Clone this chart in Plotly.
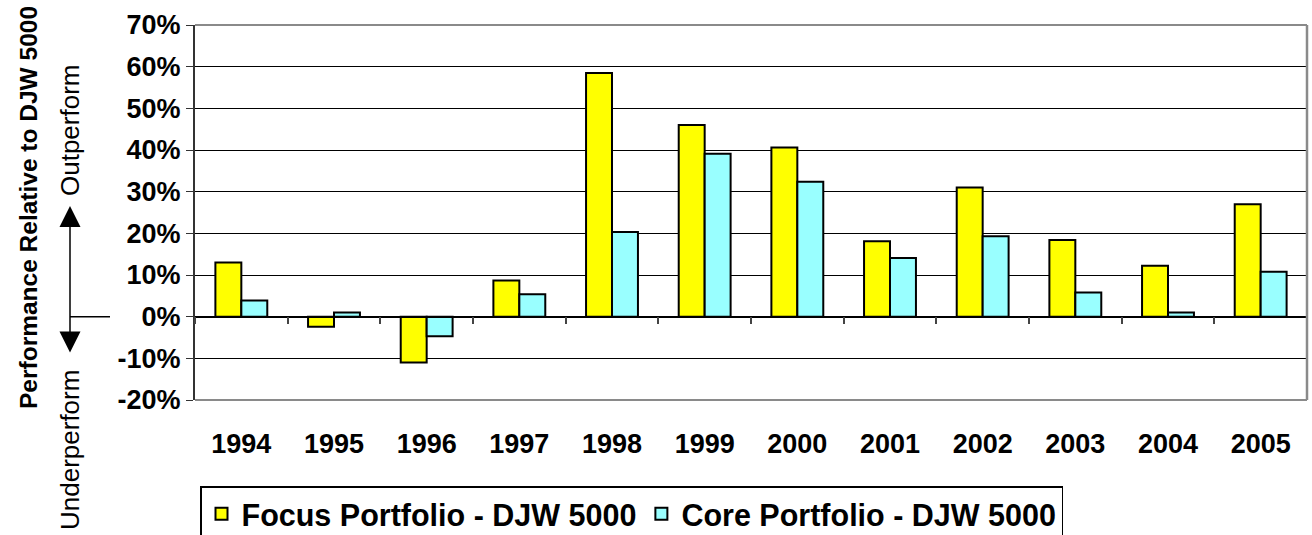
import plotly.graph_objects as go

years = ["1994", "1995", "1996", "1997", "1998", "1999", "2000", "2001", "2002", "2003", "2004", "2005"]
focus = [13.0, -2.4, -11.0, 8.7, 58.5, 46.0, 40.6, 18.1, 31.0, 18.4, 12.2, 27.0]
core = [3.9, 1.0, -4.7, 5.4, 20.3, 39.1, 32.4, 14.1, 19.3, 5.8, 1.0, 10.8]
focus_name = "Focus Portfolio - DJW 5000"
core_name = "Core Portfolio - DJW 5000"
y_ticks = [-20, -10, 0, 10, 20, 30, 40, 50, 60, 70]

FONT = "Liberation Sans, Arial, sans-serif"
W, H = 1312, 535
L, R, T, B = 195, 5, 25, 135
pw, ph = W - L - R, H - T - B

def px_x(x):
    return (x - L) / pw

def px_y(y):
    return (H - B - y) / ph

fig = go.Figure()
fig.add_trace(go.Bar(x=years, y=focus, name=focus_name,
                     marker=dict(color="#FFFF00", line=dict(color="black", width=2))))
fig.add_trace(go.Bar(x=years, y=core, name=core_name,
                     marker=dict(color="#99FFFF", line=dict(color="black", width=2))))
# invisible helper so the zero-line category axis has its categories
fig.add_trace(go.Scatter(x=years, y=[None] * len(years), xaxis="x2", mode="lines",
                         showlegend=False, hoverinfo="skip"))

ymin, ymax = y_ticks[0], y_ticks[-1]
zero_pos = (0 - ymin) / (ymax - ymin)

fig.update_layout(
    width=W, height=H,
    margin=dict(l=L, r=R, t=T, b=B, autoexpand=False),
    paper_bgcolor="white", plot_bgcolor="white",
    barmode="group", bargap=0.44, bargroupgap=0,
    font=dict(family=FONT, color="black"),
    showlegend=True,
    legend=dict(orientation="h", x=px_x(200), xanchor="left", y=px_y(486), yanchor="top",
                font=dict(family=FONT, size=30.5, color="black", weight="bold"),
                bordercolor="black", borderwidth=1.5, bgcolor="white",
                itemsizing="constant", traceorder="normal", itemwidth=30),
    xaxis=dict(type="category", showline=False, showgrid=False, zeroline=False,
               ticks="outside", ticklen=20, tickcolor="rgba(0,0,0,0)",
               tickfont=dict(family=FONT, size=27, color="black", weight="bold")),
    xaxis2=dict(type="category", overlaying="x", matches="x", anchor="free", position=zero_pos,
                side="bottom", showline=True, linecolor="black", linewidth=1.5,
                ticks="outside", tickson="boundaries", ticklen=7, tickcolor="#444", tickwidth=1.5,
                showticklabels=False, showgrid=False, zeroline=False),
    yaxis=dict(range=[ymin, ymax], tickvals=y_ticks, ticktext=[f"{v}%" for v in y_ticks],
               showgrid=True, gridcolor="black", gridwidth=1,
               zeroline=False, showline=True, linecolor="#333", linewidth=2,
               ticks="outside", ticklen=7, tickcolor="#333", tickwidth=1,
               tickfont=dict(family=FONT, size=27, color="black", weight="bold")),
)

# plot area frame (gray) on top, right, bottom
fig.add_shape(type="line", xref="paper", yref="paper", x0=0, x1=1, y0=1, y1=1,
              line=dict(color="#8a8a8a", width=2))
fig.add_shape(type="line", xref="paper", yref="paper", x0=1, x1=1, y0=0, y1=1,
              line=dict(color="#8a8a8a", width=2.5))
fig.add_shape(type="line", xref="paper", yref="paper", x0=0, x1=1, y0=0, y1=0,
              line=dict(color="#8a8a8a", width=2))

# y-axis title and side labels
fig.add_annotation(text="Performance Relative to DJW 5000", xref="paper", yref="paper",
                   x=px_x(28), y=px_y(208), xanchor="center", yanchor="middle",
                   textangle=-90, showarrow=False,
                   font=dict(family=FONT, size=24.5, color="black", weight="bold"))
fig.add_annotation(text="Outperform", xref="paper", yref="paper",
                   x=px_x(70), y=px_y(130), xanchor="center", yanchor="middle",
                   textangle=-90, showarrow=False,
                   font=dict(family=FONT, size=26, color="black"))
fig.add_annotation(text="Underperform", xref="paper", yref="paper",
                   x=px_x(70), y=px_y(450), xanchor="center", yanchor="middle",
                   textangle=-90, showarrow=False,
                   font=dict(family=FONT, size=26, color="black"))
# double arrow
fig.add_annotation(text="", xref="paper", yref="paper", x=px_x(70), y=px_y(206),
                   ax=0, ay=148, showarrow=True, arrowside="end+start",
                   arrowhead=2, startarrowhead=2, arrowsize=2.8, startarrowsize=2.8,
                   arrowwidth=1.5, arrowcolor="black")
# horizontal tick from arrow to zero level
fig.add_shape(type="line", xref="paper", yref="y", x0=px_x(70), x1=px_x(110), y0=0, y1=0,
              line=dict(color="black", width=1.5))

fig.write_html("out.html", config={"displayModeBar": False},
               post_script="document.body.style.margin='0px';")
